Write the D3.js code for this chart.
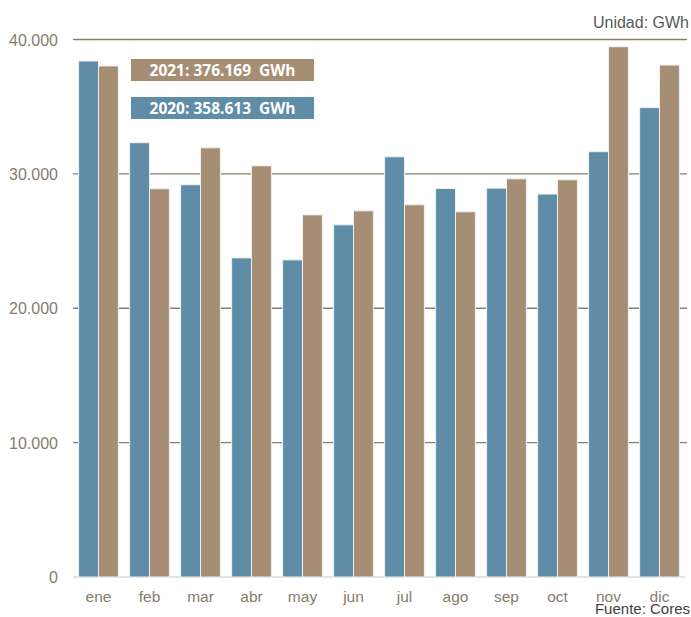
<!DOCTYPE html>
<html>
<head>
<meta charset="utf-8">
<script src="https://cdn.jsdelivr.net/npm/d3@7"></script>
<style>
  body { margin: 0; background: #fff; }
  text { font-family: "Liberation Sans", Arial, sans-serif; }
</style>
</head>
<body>
<svg id="chart" width="691" height="617"></svg>
<script>
// monthly values, GWh
const months = ["ene", "feb", "mar", "abr", "may", "jun", "jul", "ago", "sep", "oct", "nov", "dic"];
const series = ["2020", "2021"];
const values2020 = [38400, 32320, 29190, 23750, 23600, 26210, 31270, 28910, 28940, 28500, 31650, 34930];
const values2021 = [38030, 28890, 31940, 30600, 26950, 27250, 27700, 27180, 29630, 29560, 39460, 38100];
const yTicks = [0, 10000, 20000, 30000, 40000];
const totals = [
  { label: "2021: 376.169  GWh", key: "2021" },
  { label: "2020: 358.613  GWh", key: "2020" }
];

const colors = { "2020": "#5f8da8", "2021": "#a68e74" };

const svg = d3.select("#chart");
const plotLeft = 73, plotRight = 685, plotTop = 39.5, plotBottom = 577;

const x = d3.scaleBand().domain(months).range([plotLeft, plotRight])
    .paddingInner(0.22).paddingOuter(0.11);
const x1 = d3.scaleBand().domain(series).range([0, x.bandwidth()]);
const y = d3.scaleLinear().domain([0, 40000]).range([plotBottom, plotTop]);

const fmt = d3.formatLocale({ decimal: ",", thousands: ".", grouping: [3], currency: ["", ""] }).format(",");

// gridlines (behind bars)
svg.append("g").selectAll("line")
    .data(yTicks.filter(d => d > 0))
    .enter().append("line")
    .attr("x1", plotLeft).attr("x2", plotRight + 2)
    .attr("y1", d => y(d)).attr("y2", d => y(d))
    .style("stroke", "#8a8068")
    .style("stroke-width", 1.3);

// baseline
svg.append("line")
    .attr("x1", plotLeft).attr("x2", plotRight)
    .attr("y1", y(0)).attr("y2", y(0))
    .style("stroke", "#d9d9d9")
    .style("stroke-width", 1.5);

// y tick labels
svg.append("g").selectAll("text")
    .data(yTicks)
    .enter().append("text")
    .attr("x", 58)
    .attr("y", d => y(d) + 6)
    .attr("text-anchor", "end")
    .attr("font-size", 16)
    .attr("fill", "#857d6c")
    .text(d => fmt(d));

// bars
const rows = months.map((m, i) => ({ month: m, "2020": values2020[i], "2021": values2021[i] }));
const groups = svg.append("g").selectAll("g")
    .data(rows)
    .enter().append("g")
    .attr("transform", d => `translate(${x(d.month)},0)`);

groups.selectAll("rect")
    .data(d => series.map(s => ({ key: s, value: d[s] })))
    .enter().append("rect")
    .attr("x", d => x1(d.key))
    .attr("width", x1.bandwidth())
    .attr("y", d => y(d.value))
    .attr("height", d => y(0) - y(d.value))
    .attr("fill", d => colors[d.key])
    .attr("stroke", "#eef0f2")
    .attr("stroke-width", 1);

// month labels
svg.append("g").selectAll("text")
    .data(months)
    .enter().append("text")
    .attr("x", d => x(d) + x.bandwidth() / 2)
    .attr("y", 601.5)
    .attr("text-anchor", "middle")
    .attr("font-size", 15.5)
    .attr("fill", "#857d6c")
    .text(d => d);

// total boxes
const boxes = svg.append("g").selectAll("g")
    .data(totals)
    .enter().append("g")
    .attr("transform", (d, i) => `translate(131,${59 + i * 38})`);

boxes.append("rect")
    .attr("width", 183).attr("height", 22)
    .attr("fill", d => colors[d.key]);

boxes.append("text")
    .attr("x", 91.5).attr("y", 16.5)
    .attr("text-anchor", "middle")
    .attr("font-size", 15.5)
    .attr("font-weight", "bold")
    .attr("fill", "#fff")
    .style("font-family", "'Open Sans', 'Noto Sans', sans-serif")
    .style("white-space", "pre")
    .text(d => d.label);

// unit and source
svg.append("text")
    .attr("x", 689).attr("y", 28)
    .attr("text-anchor", "end")
    .attr("font-size", 16)
    .attr("fill", "#595959")
    .text("Unidad: GWh");

svg.append("text")
    .attr("x", 690).attr("y", 613.5)
    .attr("text-anchor", "end")
    .attr("font-size", 15)
    .attr("fill", "#404040")
    .text("Fuente: Cores");
</script>
</body>
</html>
